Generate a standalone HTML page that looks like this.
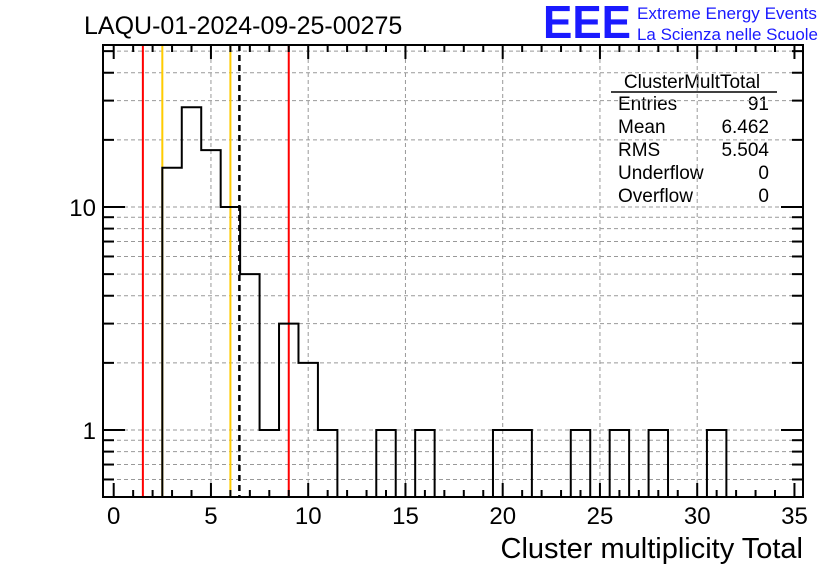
<!DOCTYPE html>
<html><head><meta charset="utf-8"><style>
body{margin:0;background:#fff;}
svg{display:block;font-family:"Liberation Sans",sans-serif;}
</style></head><body>
<svg id="c" width="836" height="572">
<text x="84" y="34" font-size="25">LAQU-01-2024-09-25-00275</text>
<text x="543" y="38" font-size="46" fill="#1a1aff" font-weight="bold" textLength="88" lengthAdjust="spacingAndGlyphs">EEE</text>
<text x="637" y="19" font-size="17" fill="#1a1aff" textLength="180" lengthAdjust="spacingAndGlyphs">Extreme Energy Events</text>
<text x="637" y="40" font-size="17" fill="#1a1aff" textLength="181" lengthAdjust="spacingAndGlyphs">La Scienza nelle Scuole</text>
<text x="803" y="558" font-size="29" text-anchor="end">Cluster multiplicity Total</text>
<g id="stats" font-size="19">
<text x="692" y="88" text-anchor="middle">ClusterMultTotal</text>
<line x1="611" y1="92" x2="777" y2="92" stroke="#000" stroke-width="1.5"/>
<text x="618" y="110">Entries</text><text x="769" y="110" text-anchor="end">91</text>
<text x="618" y="133">Mean</text><text x="769" y="133" text-anchor="end">6.462</text>
<text x="618" y="156">RMS</text><text x="769" y="156" text-anchor="end">5.504</text>
<text x="618" y="179">Underflow</text><text x="769" y="179" text-anchor="end">0</text>
<text x="618" y="202">Overflow</text><text x="769" y="202" text-anchor="end">0</text>
</g>
</svg>
<script>
const binLow=[2.5,3.5,4.5,5.5,6.5,7.5,8.5,9.5,10.5,11.5,12.5,13.5,14.5,15.5,16.5,17.5,18.5,19.5,20.5,21.5,22.5,23.5,24.5,25.5,26.5,27.5,28.5,29.5,30.5,31.5];
const counts=[15,28,18,10,5,1,3,2,1,0,0,1,0,1,0,0,0,1,1,0,0,1,0,1,0,1,0,0,1,0];
const xTicks=[0,5,10,15,20,25,30,35];
const yTickLabels=[1,10];
const redLines=[1.5,9];
const yellowLines=[2.5,6];
const meanValue=[6.462];
const L=103,R=803,T=45,B=497;
const X0=113.7,XS=19.45;
const xs=v=>X0+v*XS;
const ys=v=>430-Math.log10(v)*223;
const svg=document.getElementById('c');
const NS='http://www.w3.org/2000/svg';
function mk(tag,attrs,p){const e=document.createElementNS(NS,tag);for(const k in attrs)e.setAttribute(k,attrs[k]);(p||svg).appendChild(e);return e;}
const g=mk('g',{});


const yMin=Math.pow(10,(430-B)/223), yMax=Math.pow(10,(430-T)/223);
const minors=[];
for(let d=0.1;d<=100;d*=10)for(let m=1;m<10;m++){const v=+(m*d).toFixed(3);if(v>yMin&&v<yMax)minors.push(v);}
minors.forEach(v=>mk('line',{x1:L,x2:R,y1:ys(v),y2:ys(v),stroke:'#999','stroke-dasharray':'4,3'},g));
xTicks.forEach(v=>{if(v>0&&v<35)mk('line',{x1:xs(v),x2:xs(v),y1:T,y2:B,stroke:'#999','stroke-dasharray':'4,3'},g);});
redLines.forEach(v=>{const l=mk('line',{x1:xs(v),x2:xs(v),y1:T,y2:B,stroke:'#f00','stroke-width':2});

});
yellowLines.forEach(v=>{const l=mk('line',{x1:xs(v),x2:xs(v),y1:T,y2:B,stroke:'#fc0','stroke-width':2});

});
meanValue.forEach(v=>{const l=mk('line',{x1:xs(v),x2:xs(v),y1:T,y2:B,stroke:'#000','stroke-width':2.5,'stroke-dasharray':'6,4'});

});
let d='M'+xs(binLow[0])+','+B;
binLow.forEach((lo,i)=>{const y=counts[i]>0?ys(counts[i]):B;d+=' L'+xs(lo)+','+y+' L'+xs(lo+1)+','+y;});
d+=' L'+xs(binLow[binLow.length-1]+1)+','+B;
const h=mk('path',{d:d,fill:'none',stroke:'#000','stroke-width':2});


const f=mk('rect',{x:L,y:T,width:R-L,height:B-T,fill:'none',stroke:'#000','stroke-width':2});


const ax=mk('g',{stroke:'#000','stroke-width':2});


for(let v=0;v<=35;v++){const len=v%5===0?14:7;
mk('line',{x1:xs(v),x2:xs(v),y1:B,y2:B-len},ax);mk('line',{x1:xs(v),x2:xs(v),y1:T,y2:T+len},ax);}
minors.forEach(v=>{const len=(v===1||v===10)?22:11;
mk('line',{x1:L,x2:L+len,y1:ys(v),y2:ys(v)},ax);mk('line',{x1:R,x2:R-len,y1:ys(v),y2:ys(v)},ax);});
xTicks.forEach(v=>{const t=mk('text',{x:xs(v),y:524,'font-size':24,'text-anchor':'middle'});t.textContent=v;

});
yTickLabels.forEach(v=>{const t=mk('text',{x:96,y:ys(v)+9,'font-size':24,'text-anchor':'end'});t.textContent=v;

});
</script>
</body></html>
